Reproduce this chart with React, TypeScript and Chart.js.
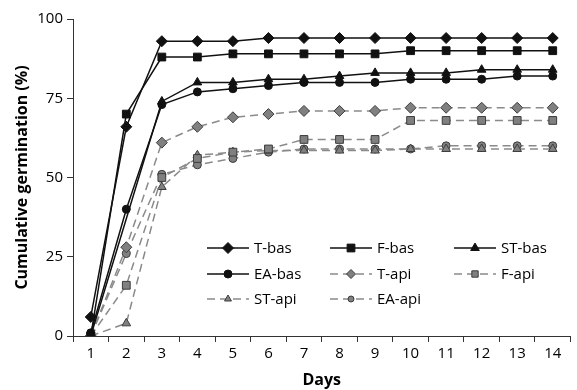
import React, { useEffect, useRef } from 'react';
import { Chart, registerables } from 'chart.js';

Chart.register(...registerables);

const days = ['1', '2', '3', '4', '5', '6', '7', '8', '9', '10', '11', '12', '13', '14'];
const yTicks = [0, 25, 50, 75, 100];

const tBas = [6, 66, 93, 93, 93, 94, 94, 94, 94, 94, 94, 94, 94, 94];
const fBas = [0, 70, 88, 88, 89, 89, 89, 89, 89, 90, 90, 90, 90, 90];
const stBas = [0, null, 74, 80, 80, 81, 81, 82, 83, 83, 83, 84, 84, 84];
const eaBas = [1, 40, 73, 77, 78, 79, 80, 80, 80, 81, 81, 81, 82, 82];
const tApi = [0, 28, 61, 66, 69, 70, 71, 71, 71, 72, 72, 72, 72, 72];
const fApi = [0, 16, 50, 56, 58, 59, 62, 62, 62, 68, 68, 68, 68, 68];
const stApi = [0, 4, 47, 57, 58, 58.5, 58.5, 58.5, 58.5, 59, 59, 59, 59, 59];
const eaApi = [0, 26, 51, 54, 56, 58, 59, 59, 59, 59, 60, 60, 60, 60];

const seriesNames = ['T-bas', 'F-bas', 'ST-bas', 'EA-bas', 'T-api', 'F-api', 'ST-api', 'EA-api'];
const seriesValues = [tBas, fBas, stBas, eaBas, tApi, fApi, stApi, eaApi];
const seriesShapes = ['rectRot', 'rect', 'triangle', 'circle', 'rectRot', 'rect', 'triangle', 'circle'];
const seriesRadius = [5.5, 5.5, 5, 4, 5.5, 5.5, 5, 4];

const FONT = '"Open Sans", "DejaVu Sans", sans-serif';
const SOLID = '#111111';
const DASH = '#8a8a8a';
const GRAYFILL = '#808080';
const GRAYEDGE = '#3c3c3c';

function drawMarker(ctx: CanvasRenderingContext2D, shape: string, x: number, y: number, r: number) {
  ctx.beginPath();
  if (shape === 'circle') {
    ctx.arc(x, y, r, 0, Math.PI * 2);
  } else if (shape === 'rect') {
    const s = Math.SQRT1_2 * r;
    ctx.rect(x - s, y - s, 2 * s, 2 * s);
  } else if (shape === 'rectRot') {
    ctx.moveTo(x - r, y);
    ctx.lineTo(x, y - r);
    ctx.lineTo(x + r, y);
    ctx.lineTo(x, y + r);
    ctx.closePath();
  } else if (shape === 'triangle') {
    let rad = 0;
    ctx.moveTo(x + Math.sin(rad) * r, y - Math.cos(rad) * r);
    rad += (Math.PI * 2) / 3;
    ctx.lineTo(x + Math.sin(rad) * r, y - Math.cos(rad) * r);
    rad += (Math.PI * 2) / 3;
    ctx.lineTo(x + Math.sin(rad) * r, y - Math.cos(rad) * r);
    ctx.closePath();
  }
  ctx.fill();
  ctx.stroke();
}

const legendPlugin = {
  id: 'customLegend',
  afterDraw(chart: any) {
    const ctx: CanvasRenderingContext2D = chart.ctx;
    const area = chart.chartArea;
    const colX = [area.left + 134, area.left + 257, area.left + 381];
    const rowY = [area.top + 229, area.top + 255, area.top + 280];
    const lineLen = 42;
    ctx.save();
    seriesNames.forEach((name, i) => {
      const col = i % 3;
      const row = Math.floor(i / 3);
      const x0 = colX[col];
      const y0 = rowY[row];
      const api = i >= 4;
      ctx.lineWidth = 1.5;
      ctx.strokeStyle = api ? DASH : SOLID;
      ctx.setLineDash(api ? [8, 5] : []);
      ctx.beginPath();
      ctx.moveTo(x0, y0);
      ctx.lineTo(x0 + lineLen, y0);
      ctx.stroke();
      ctx.setLineDash([]);
      ctx.fillStyle = api ? GRAYFILL : SOLID;
      ctx.strokeStyle = api ? GRAYEDGE : SOLID;
      ctx.lineWidth = 1;
      drawMarker(ctx, seriesShapes[i], x0 + lineLen / 2, y0, api ? seriesRadius[i] - 1 : seriesRadius[i]);
      ctx.fillStyle = '#000';
      ctx.font = `15px ${FONT}`;
      ctx.textAlign = 'left';
      ctx.textBaseline = 'middle';
      ctx.fillText(name, x0 + lineLen + 5, y0 + 1);
    });
    ctx.restore();
  },
};

export default function App() {
  const canvasRef = useRef<HTMLCanvasElement | null>(null);

  useEffect(() => {
    if (!canvasRef.current) return;
    const datasets = seriesNames.map((name, i) => {
      const api = i >= 4;
      return {
        label: name,
        data: seriesValues[i],
        borderColor: api ? DASH : SOLID,
        borderWidth: 1.5,
        borderDash: api ? [8, 5] : [],
        pointStyle: seriesShapes[i],
        pointRadius: seriesRadius[i],
        pointHoverRadius: seriesRadius[i],
        pointBackgroundColor: api ? GRAYFILL : SOLID,
        pointBorderColor: api ? GRAYEDGE : SOLID,
        pointBorderWidth: 1,
        fill: false,
        tension: 0,
        spanGaps: true,
      };
    });

    const chart = new Chart(canvasRef.current, {
      type: 'line',
      data: { labels: days, datasets },
      options: {
        animation: false,
        responsive: false,
        maintainAspectRatio: false,
        layout: { padding: { top: 19, right: 3, left: 0, bottom: 0 } },
        plugins: {
          legend: { display: false },
          tooltip: { enabled: false },
        },
        scales: {
          x: {
            type: 'category',
            offset: true,
            grid: {
              offset: true,
              drawOnChartArea: false,
              drawTicks: true,
              tickLength: 6,
              color: '#333',
            },
            border: { display: true, color: '#333', width: 1 },
            ticks: {
              color: '#000',
              font: { family: FONT, size: 15 },
              padding: 3,
              maxRotation: 0,
              autoSkip: false,
            },
            title: {
              display: true,
              text: 'Days',
              color: '#000',
              font: { family: FONT, size: 16, weight: 'bold' },
              padding: { top: 0, bottom: 0 },
            },
            afterFit: (scale: any) => {
              scale.height = 54;
            },
          },
          y: {
            min: 0,
            max: 100,
            afterBuildTicks: (scale: any) => {
              scale.ticks = yTicks.map((v) => ({ value: v }));
            },
            grid: {
              drawOnChartArea: false,
              drawTicks: true,
              tickLength: 6,
              color: '#333',
            },
            border: { display: true, color: '#333', width: 1 },
            ticks: {
              color: '#000',
              font: { family: FONT, size: 15 },
              padding: 4,
            },
            title: {
              display: true,
              text: 'Cumulative germination (%)',
              color: '#000',
              font: { family: FONT, size: 16, weight: 'bold' },
              padding: { top: 13, bottom: 0 },
            },
            afterFit: (scale: any) => {
              scale.width = 73;
            },
          },
        },
      },
      plugins: [legendPlugin],
    });
    return () => chart.destroy();
  }, []);

  return (
    <div style={{ position: 'fixed', left: 0, top: 0, width: 577, height: 390, background: '#fff' }}>
      <canvas ref={canvasRef} width={577} height={390} style={{ width: 577, height: 390, display: 'block' }} />
    </div>
  );
}
